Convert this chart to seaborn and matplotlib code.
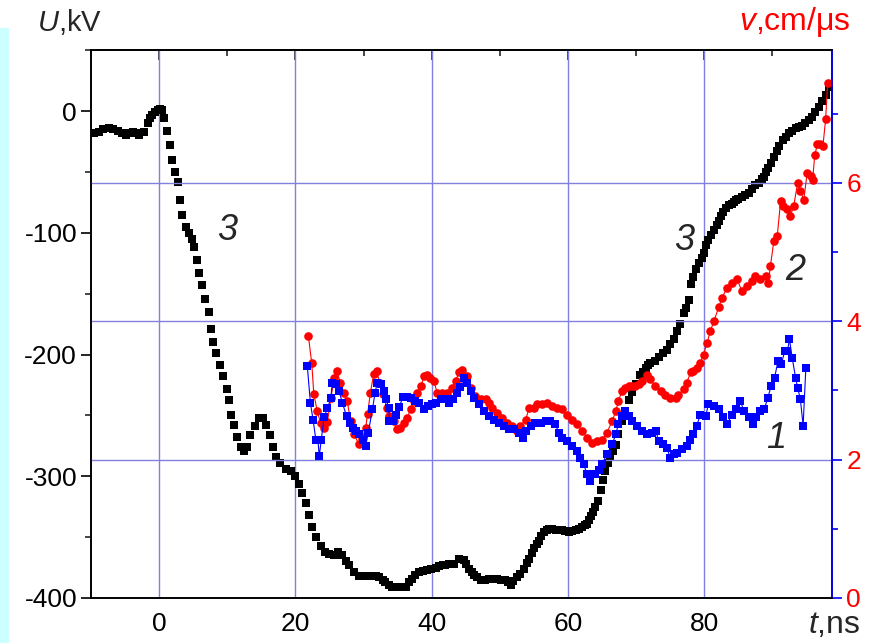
import matplotlib
matplotlib.use("Agg")
import matplotlib.pyplot as plt
from matplotlib.patches import Rectangle
from matplotlib.ticker import MultipleLocator
import seaborn as sns

# curve 3: voltage U (kV) vs time t (ns)
t_u = [-10, -9.5, -8.8, -8.2, -7.3, -6.7, -6.1, -5.5, -4.9, -4.4, -3.9, -3.4, -2.9, -2.2, -1.7, -1.3,
       -1.0, -0.6, -0.2, 0.2, 0.4, 0.7, 1.2, 1.6, 1.9, 2.4, 2.8, 3.1, 3.4, 3.9, 4.4, 4.8, 5.1, 5.6,
       5.9, 6.3, 6.7, 7.3, 7.6, 7.9, 8.4, 8.9, 9.4, 9.9, 10.3, 10.6, 11.0, 11.5, 12.0, 12.5, 12.9,
       13.4, 14.1, 14.7, 15.2, 15.7, 16.2, 16.7, 17.2, 17.8, 18.6, 19.3, 19.9, 20.5, 21.0, 21.5,
       22.0, 22.5, 23.0, 23.7, 24.4, 25.0, 25.6, 26.2, 26.8, 27.4, 27.9, 28.6, 29.3, 29.8, 30.3,
       30.8, 31.3, 31.8, 32.3, 32.8, 33.2, 33.7, 34.2, 34.7, 35.2, 35.7, 36.2, 36.7, 37.1, 37.6,
       38.1, 38.7, 39.3, 39.9, 40.6, 41.1, 41.6, 42.0, 42.6, 43.3, 44.0, 44.7, 45.1, 45.5, 45.9,
       46.2, 46.7, 47.2, 47.8, 48.4, 49.0, 49.6, 50.2, 50.8, 51.2, 51.6, 52.0, 52.5, 53.0, 53.5,
       54.0, 54.3, 54.7, 55.0, 55.4, 55.7, 56.1, 56.5, 56.9, 57.2, 57.7, 58.2, 58.7, 59.1, 59.6,
       60.1, 60.6, 61.1, 61.6, 62.1, 62.5, 62.8, 63.1, 63.4, 63.7, 64.0, 64.4, 64.8, 65.1, 65.5,
       65.9, 66.2, 66.6, 67.0, 67.4, 67.9, 68.4, 68.9, 69.4, 70.0, 70.6, 71.0, 71.4, 71.8, 72.1,
       72.7, 73.3, 73.9, 74.5, 75.0, 75.5, 76.0, 76.5, 77.0, 77.3, 77.7, 78.1, 78.4, 78.8, 79.2,
       79.6, 79.9, 80.3, 80.6, 81.0, 81.4, 81.8, 82.1, 82.5, 82.8, 83.2, 83.6, 84.0, 84.3, 84.7,
       85.0, 85.5, 86.0, 86.5, 87.0, 87.5, 88.0, 88.4, 88.7, 89.1, 89.4, 89.8, 90.2, 90.6, 91.0,
       91.5, 92.0, 92.5, 92.9, 93.4, 93.9, 94.3, 94.8, 95.3, 95.8, 96.3, 96.8, 97.3, 97.8, 98.3]
u_kv = [-18, -18, -17, -15, -14, -15, -16, -18, -20, -18, -17, -18, -20, -17, -10, -6,
        -3, -1, 1, 2, 1, -6, -16, -28, -40, -50, -58, -73, -85, -95, -100, -105, -112, -122,
        -133, -143, -154, -165, -179, -190, -199, -209, -218, -228, -237, -250, -258, -268, -276, -279, -276,
        -266, -259, -252, -252, -258, -266, -276, -284, -289, -294, -296, -300, -306, -314, -322,
        -332, -342, -350, -357, -362, -364, -365, -362, -365, -370, -373, -379, -382, -382, -382,
        -382, -382, -382, -383, -385, -387, -389, -391, -391, -391, -391, -391, -387, -384, -381,
        -379, -378, -377, -376, -375, -374, -373, -373, -372, -372, -368, -369, -372, -376, -379,
        -381, -383, -385, -385, -384, -384, -384, -385, -385, -387, -389, -386, -383, -380, -376,
        -371, -368, -363, -359, -356, -353, -349, -346, -344, -343, -343, -344, -344, -344, -345,
        -346, -345, -344, -343, -342, -340, -339, -336, -333, -329, -325, -320, -311, -303, -296,
        -289, -284, -279, -274, -265, -255, -246, -237, -231, -224, -217, -214, -211, -209, -207,
        -205, -202, -199, -196, -191, -187, -181, -175, -166, -162, -155, -142, -136, -130, -125,
        -121, -117, -110, -106, -102, -98, -94, -90, -86, -83, -80, -77, -76, -75, -73,
        -72, -71, -69, -67, -64, -61, -59, -56, -54, -50, -47, -43, -38, -33, -29,
        -24, -21, -18, -16, -14, -13, -12, -10, -7, -5, -1, 3, 8, 13, 20]

# curve 2: velocity v (cm/us), red
t_red = [21.9, 22.4, 22.7, 23.2, 23.7, 24.2, 24.7, 25.2, 25.7, 26.1, 26.6, 27.1, 27.6, 28.1, 28.6,
         29.3, 29.8, 30.3, 30.6, 31.0, 31.5, 31.9, 32.4, 32.9, 33.4, 33.8, 34.5, 34.9, 35.4, 35.9,
         36.4, 36.9, 37.4, 37.9, 38.4, 38.9, 39.3, 39.8, 40.3, 40.8, 41.5, 42.3, 43.0, 43.5, 44.0,
         44.5, 45.2, 45.7, 46.4, 47.2, 47.9, 48.4, 48.9, 49.6, 50.3, 51.1, 51.8, 52.5, 53.0, 53.8,
         54.3, 55.0, 55.5, 56.2, 56.9, 57.7, 58.4, 59.1, 59.9, 60.6, 61.3, 62.1, 62.8, 63.5, 64.3,
         65.0, 65.7, 66.5, 67.0, 67.4, 67.9, 68.4, 68.9, 69.4, 69.9, 70.4, 70.9, 71.6, 72.1, 72.8,
         73.6, 74.3, 75.0, 75.8, 76.2, 77.0, 77.4, 78.0, 78.4, 78.9, 79.4, 79.9, 80.4, 80.9, 81.4,
         82.1, 82.6, 83.3, 84.1, 84.8, 85.5, 86.3, 87.0, 87.5, 88.2, 89.0, 89.4, 89.7, 90.2, 90.7,
         91.2, 91.6, 92.1, 92.6, 93.1, 93.7, 94.1, 94.6, 95.1, 95.6, 95.9, 96.2, 96.6, 97.0, 97.4,
         97.8, 98.1]
v_red = [3.79, 3.39, 2.95, 2.70, 2.53, 2.46, 2.55, 2.89, 3.18, 3.28, 3.11, 2.97, 2.85, 2.56, 2.37,
         2.22, 2.31, 2.46, 2.66, 2.97, 3.24, 3.28, 3.11, 2.95, 2.75, 2.63, 2.56, 2.44, 2.46, 2.53,
         2.60, 2.73, 2.85, 2.97, 3.06, 3.21, 3.23, 3.18, 3.14, 2.97, 2.97, 2.97, 3.04, 3.14, 3.26,
         3.30, 3.21, 3.04, 2.92, 2.87, 2.87, 2.82, 2.75, 2.68, 2.60, 2.53, 2.49, 2.41, 2.49, 2.58,
         2.75, 2.75, 2.80, 2.80, 2.82, 2.77, 2.75, 2.73, 2.65, 2.58, 2.51, 2.41, 2.32, 2.24, 2.27,
         2.29, 2.39, 2.56, 2.70, 2.85, 2.99, 3.03, 3.06, 3.06, 3.06, 3.10, 3.14, 3.23, 3.16, 3.06,
         2.99, 2.94, 2.89, 2.89, 2.94, 3.02, 3.11, 3.26, 3.28, 3.33, 3.40, 3.52, 3.69, 3.86, 4.00,
         4.20, 4.34, 4.48, 4.56, 4.61, 4.44, 4.51, 4.58, 4.65, 4.61, 4.65, 4.56, 4.80, 5.16, 5.23,
         5.74, 5.66, 5.62, 5.52, 5.66, 6.00, 5.88, 5.76, 6.15, 6.10, 6.05, 6.40, 6.56, 6.56, 6.53,
         6.92, 7.45]

# curve 1: velocity v (cm/us), blue
t_blue = [21.75, 22.2, 22.6, 23.0, 23.3, 23.5, 23.8, 24.2, 24.7, 25.2, 25.4, 25.9, 26.4, 26.9, 27.5,
          28.0, 28.4, 28.9, 29.4, 29.9, 30.3, 30.7, 31.3, 31.7, 32.0, 32.5, 33.0, 33.3, 33.7, 33.8,
          34.3, 34.7, 35.2, 35.8, 36.4, 37.0, 37.6, 38.2, 38.9, 39.5, 40.1, 40.7, 41.3, 41.9, 42.5,
          43.1, 43.7, 44.2, 44.7, 45.2, 45.7, 46.2, 46.9, 47.7, 48.4, 49.1, 49.9, 50.6, 51.3, 52.1,
          52.8, 53.4, 53.9, 54.5, 55.2, 56.0, 56.7, 57.4, 58.1, 58.7, 59.1, 59.9, 60.6, 61.3, 61.8,
          62.3, 62.8, 63.3, 64.0, 64.5, 65.0, 65.7, 66.5, 67.0, 67.4, 67.9, 68.4, 68.9, 69.4, 70.1,
          70.9, 71.6, 72.3, 72.9, 73.3, 74.0, 74.5, 75.0, 75.5, 76.0, 76.7, 77.4, 77.9, 78.4, 78.9,
          79.4, 80.2, 80.6, 81.4, 82.1, 82.8, 83.3, 84.1, 84.6, 85.3, 85.8, 86.5, 87.1, 87.6, 88.2,
          88.8, 89.3, 89.8, 90.3, 90.8, 91.3, 91.8, 92.2, 92.5, 92.9, 93.4, 93.7, 94.1, 94.5, 94.9]
v_blue = [3.35, 2.82, 2.57, 2.29, 2.29, 2.05, 2.29, 2.61, 2.74, 2.89, 3.11, 3.09, 2.99, 2.82, 2.63,
          2.53, 2.46, 2.41, 2.37, 2.28, 2.20, 2.39, 2.73, 2.97, 3.11, 3.09, 2.99, 2.87, 2.75, 2.56,
          2.56, 2.65, 2.76, 2.90, 2.90, 2.89, 2.85, 2.82, 2.73, 2.77, 2.80, 2.82, 2.87, 2.87, 2.82,
          2.87, 2.97, 3.05, 3.18, 3.11, 2.99, 2.89, 2.80, 2.70, 2.63, 2.58, 2.53, 2.49, 2.44, 2.44,
          2.39, 2.31, 2.41, 2.49, 2.53, 2.53, 2.56, 2.56, 2.51, 2.39, 2.32, 2.27, 2.20, 2.12, 2.03,
          1.93, 1.79, 1.69, 1.79, 1.85, 1.93, 2.08, 2.22, 2.37, 2.51, 2.63, 2.70, 2.63, 2.56, 2.49,
          2.41, 2.37, 2.39, 2.41, 2.27, 2.22, 2.17, 2.03, 2.08, 2.10, 2.15, 2.20, 2.29, 2.37, 2.49,
          2.65, 2.63, 2.80, 2.77, 2.73, 2.61, 2.51, 2.65, 2.73, 2.85, 2.70, 2.61, 2.51, 2.61, 2.70,
          2.73, 2.89, 3.06, 3.18, 3.42, 3.38, 3.57, 3.57, 3.74, 3.47, 3.18, 3.04, 2.87, 2.49, 3.33]

sns.set_style("white")
plt.rcParams["font.family"] = ["Liberation Sans", "DejaVu Sans"]
plt.rcParams["mathtext.fontset"] = "custom"
plt.rcParams["mathtext.rm"] = "Liberation Sans"
plt.rcParams["mathtext.it"] = "Liberation Sans:italic"
plt.rcParams["axes.unicode_minus"] = False

grid_col = "#8080e0"

fig = plt.figure(figsize=(8.78, 6.43), dpi=100)
fig.patches.append(Rectangle((0, 0), 8 / 878, 615 / 643, transform=fig.transFigure,
                             color="#ccffff", zorder=0))
ax = fig.add_axes([0.1036, 0.070, 0.8445, 0.852])
ax2 = ax.twinx()

sns.scatterplot(x=t_u, y=u_kv, marker="s", s=26, color="black", linewidth=0, ax=ax, zorder=3)
sns.lineplot(x=t_red, y=v_red, sort=False, estimator=None, color="red", linewidth=0.8,
             marker="o", markersize=6.2, markeredgewidth=0, ax=ax2)
sns.lineplot(x=t_blue, y=v_blue, sort=False, estimator=None, color="blue", linewidth=0.8,
             marker="s", markersize=5.6, markeredgewidth=0, ax=ax2)

ax.set_xlim(-10, 98.8)
ax.set_ylim(-400, 50)
ax2.set_ylim(0, 7.92)

ax.xaxis.set_major_locator(MultipleLocator(20))
ax.xaxis.set_minor_locator(MultipleLocator(10))
ax.yaxis.set_major_locator(MultipleLocator(100))
ax.yaxis.set_minor_locator(MultipleLocator(50))
ax2.yaxis.set_major_locator(MultipleLocator(2))
ax2.yaxis.set_minor_locator(MultipleLocator(1))

ax.grid(axis="x", which="major", color=grid_col, linewidth=1.0)
ax2.grid(axis="y", which="major", color=grid_col, linewidth=1.0)
ax2.set_axisbelow(True)

for a in (ax, ax2):
    for s in a.spines.values():
        s.set_linewidth(1.2)
        s.set_color("black")
ax2.spines["right"].set_color("blue")

ax.tick_params(axis="both", which="major", direction="out", length=7, width=1.2, labelsize=19,
               colors="black", pad=3)
ax.tick_params(axis="both", which="minor", direction="out", length=4, width=1.2)
ax.tick_params(axis="y", right=False)
ax2.tick_params(axis="y", which="major", direction="out", length=7, width=1.2, color="blue",
                labelcolor="red", labelsize=19, pad=3)
ax2.tick_params(axis="y", which="minor", direction="out", length=4, width=1.2, color="blue")

top = ax.secondary_xaxis("top")
top.xaxis.set_major_locator(MultipleLocator(20))
top.xaxis.set_minor_locator(MultipleLocator(10))
top.tick_params(which="major", direction="in", length=7, width=1.2, labeltop=False)
top.tick_params(which="minor", direction="in", length=4, width=1.2)
top.spines["top"].set_linewidth(1.2)

ax.set_xlabel("")
ax.set_ylabel("")
ax2.set_ylabel("")

fig.text(0.079, 0.966, "$U$,kV", fontsize=21, ha="center", va="center")
fig.text(0.905, 0.966, "$v$,cm/\u03bcs", fontsize=23, ha="center", va="center", color="red")
fig.text(0.950, 0.028, "$t$,ns", fontsize=23, ha="center", va="center")

ax.text(10.0, -98, "3", fontsize=26, style="italic", ha="center", va="center")
ax.text(77.0, -106, "3", fontsize=26, style="italic", ha="center", va="center")
ax2.text(93.4, 4.73, "2", fontsize=26, style="italic", ha="center", va="center")
ax2.text(90.6, 2.31, "1", fontsize=26, style="italic", ha="center", va="center")

fig.savefig("out.png", dpi=100)
